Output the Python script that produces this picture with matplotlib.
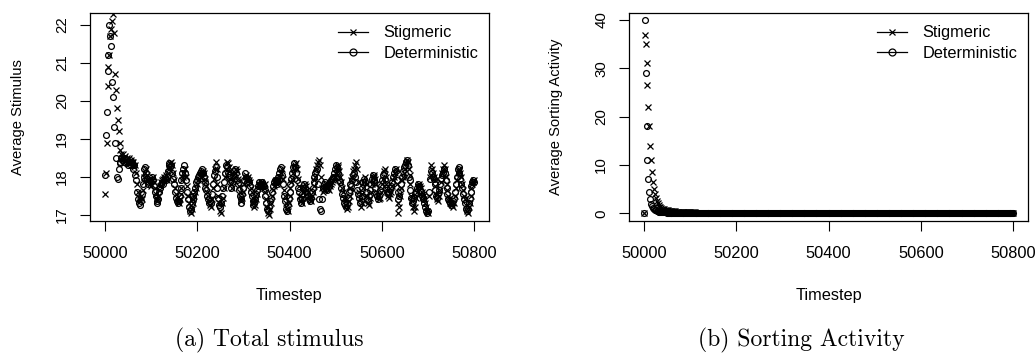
import matplotlib
matplotlib.use("Agg")
import matplotlib.pyplot as plt
from matplotlib.lines import Line2D
import numpy as np

plt.rcParams["font.family"] = ["Liberation Sans", "DejaVu Sans"]

# sampled every 2 timesteps
timestep = np.arange(50000, 50801, 2)

# (a) average stimulus
stim_stig = [
    # start-up transient 50000-50038
    17.55, 18.1, 18.9, 20.4, 20.9, 21.2, 21.7, 21.9, 22.1, 22.3,
    21.8, 20.7, 20.3, 19.8, 19.5, 19.2, 18.9, 18.7, 18.6, 18.5,
    # 50040 onwards, 5 values per line
    18.6, 18.5, 18.55, 18.45, 18.5,
    18.4, 18.5, 18.35, 18.45, 18.4,
    18.3, 18.4, 18.25, 18.3, 18.1,
    17.8, 17.6, 17.45, 17.35, 17.5,
    17.4, 17.65, 17.85, 18.0, 18.1,
    18.2, 18.05, 17.9, 17.95, 17.8,
    17.75, 17.9, 18.0, 17.85, 17.7,
    17.55, 17.4, 17.35, 17.5, 17.65,
    17.75, 17.85, 17.9, 17.95, 18.0,
    17.95, 18.05, 17.9, 18.1, 18.2,
    18.25, 18.35, 18.4, 18.3, 18.1,
    17.9, 17.7, 17.55, 17.45, 17.35,
    17.3, 17.4, 17.55, 17.7, 17.9,
    18.0, 18.1, 18.2, 18.0, 17.75,
    17.5, 17.3, 17.1, 17.05, 17.15,
    17.3, 17.4, 17.5, 17.6, 17.7,
    17.8, 17.9, 17.95, 18.05, 18.0,
    18.1, 18.15, 18.1, 17.95, 17.85,
    17.75, 17.6, 17.5, 17.35, 17.25,
    17.2, 17.4, 17.7, 17.95, 18.2,
    18.4, 18.2, 17.8, 17.5, 17.3,
    17.1, 17.05, 17.3, 17.45, 17.7,
    18.0, 18.2, 18.4, 18.35, 18.25,
    18.15, 17.95, 17.8, 17.7, 17.9,
    18.0, 18.1, 18.2, 18.15, 17.95,
    17.75, 17.6, 17.4, 17.35, 17.45,
    17.6, 17.8, 18.0, 18.05, 17.95,
    18.0, 17.9, 17.85, 17.7, 17.6,
    17.45, 17.3, 17.2, 17.25, 17.4,
    17.55, 17.7, 17.8, 17.75, 17.85,
    17.8, 17.75, 17.7, 17.8, 17.6,
    17.4, 17.2, 17.05, 17.0, 17.15,
    17.3, 17.5, 17.65, 17.75, 17.85,
    17.9, 17.85, 17.8, 17.9, 17.95,
    18.0, 18.1, 18.2, 17.95, 17.65,
    17.5, 17.3, 17.15, 17.1, 17.3,
    17.5, 17.7, 17.85, 17.95, 18.1,
    18.2, 18.3, 18.35, 18.2, 17.95,
    17.75, 17.5, 17.35, 17.3, 17.45,
    17.6, 17.7, 17.8, 17.75, 17.65,
    17.6, 17.5, 17.4, 17.35, 17.5,
    17.6, 17.75, 17.9, 18.0, 18.2,
    18.3, 18.4, 18.45, 18.3, 18.0,
    17.7, 17.6, 17.65, 17.75, 17.7,
    17.8, 17.75, 17.7, 17.65, 17.75,
    17.8, 17.85, 17.9, 17.95, 18.0,
    18.1, 18.15, 18.25, 18.3, 18.15,
    18.0, 17.85, 17.7, 17.6, 17.45,
    17.4, 17.25, 17.15, 17.2, 17.35,
    17.5, 17.7, 17.9, 18.0, 18.15,
    18.2, 18.3, 18.4, 18.2, 17.85,
    17.6, 17.4, 17.2, 17.3, 17.55,
    17.7, 17.85, 18.0, 17.8, 17.5,
    17.3, 17.25, 17.45, 17.6, 17.8,
    18.0, 18.05, 18.0, 17.95, 17.8,
    17.6, 17.5, 17.4, 17.45, 17.6,
    17.8, 17.95, 18.15, 18.2, 18.0,
    17.8, 17.65, 17.5, 17.45, 17.55,
    17.6, 17.75, 17.9, 18.0, 18.1,
    18.2, 17.8, 17.3, 17.05, 17.2,
    17.5, 17.7, 17.9, 18.0, 18.1,
    18.2, 18.35, 18.45, 18.4, 18.2,
    18.05, 17.8, 17.5, 17.35, 17.2,
    17.1, 17.2, 17.45, 17.6, 17.75,
    17.8, 17.75, 17.7, 17.6, 17.55,
    17.5, 17.4, 17.3, 17.2, 17.1,
    17.05, 17.5, 18.0, 18.3, 18.2,
    18.1, 18.0, 17.9, 17.75, 17.55,
    17.4, 17.35, 17.5, 17.65, 17.85,
    18.1, 18.2, 18.3, 18.2, 18.0,
    17.8, 17.65, 17.5, 17.4, 17.3,
    17.3, 17.25, 17.2, 17.3, 17.5,
    17.7, 17.9, 18.1, 18.2, 18.15,
    18.1, 18.0, 17.8, 17.65, 17.5,
    17.4, 17.25, 17.1, 17.05, 17.2,
    17.3, 17.5, 17.7, 17.8, 17.85,
    17.9,
]
stim_det = [
    18.05, 19.1, 19.7, 20.8, 21.2, 22.0, 21.7, 21.45, 20.5, 20.1,
    19.3, 18.9, 18.5, 18.0, 17.95, 18.2, 18.35, 18.4, 18.5, 18.45,
    18.45, 18.4, 18.5, 18.35, 18.4,
    18.3, 18.4, 18.45, 18.3, 18.35,
    18.4, 18.2, 18.3, 18.05, 17.9,
    17.6, 17.4, 17.3, 17.25, 17.35,
    17.55, 17.8, 18.0, 18.2, 18.25,
    18.1, 17.95, 17.8, 17.85, 17.9,
    17.85, 18.0, 17.9, 17.75, 17.6,
    17.5, 17.35, 17.3, 17.4, 17.6,
    17.7, 17.8, 17.85, 17.8, 17.9,
    18.0, 17.9, 18.0, 18.15, 18.3,
    18.35, 18.25, 18.3, 18.1, 17.95,
    17.8, 17.6, 17.45, 17.35, 17.3,
    17.35, 17.5, 17.7, 17.9, 18.1,
    18.2, 18.3, 18.1, 17.9, 17.6,
    17.4, 17.2, 17.1, 17.15, 17.3,
    17.4, 17.5, 17.6, 17.7, 17.85,
    17.9, 18.0, 18.05, 18.1, 18.15,
    18.2, 18.1, 18.0, 17.85, 17.7,
    17.65, 17.5, 17.4, 17.3, 17.35,
    17.3, 17.55, 17.8, 18.05, 18.15,
    18.25, 18.0, 17.7, 17.45, 17.25,
    17.2, 17.3, 17.5, 17.7, 17.85,
    18.1, 18.3, 18.25, 18.1, 18.0,
    18.05, 17.85, 17.7, 17.85, 18.05,
    18.15, 18.2, 18.1, 17.9, 17.8,
    17.65, 17.5, 17.3, 17.4, 17.55,
    17.7, 17.9, 18.1, 18.0, 17.85,
    17.95, 17.85, 17.75, 17.6, 17.5,
    17.35, 17.25, 17.3, 17.4, 17.55,
    17.65, 17.75, 17.85, 17.8, 17.75,
    17.85, 17.8, 17.75, 17.65, 17.5,
    17.3, 17.15, 17.1, 17.2, 17.35,
    17.45, 17.6, 17.75, 17.85, 17.9,
    17.85, 17.8, 17.9, 18.0, 18.1,
    18.2, 18.25, 18.05, 17.8, 17.5,
    17.35, 17.15, 17.1, 17.25, 17.45,
    17.6, 17.8, 17.95, 18.1, 18.25,
    18.35, 18.25, 18.1, 17.9, 17.7,
    17.6, 17.4, 17.3, 17.4, 17.55,
    17.7, 17.8, 17.7, 17.6, 17.55,
    17.5, 17.4, 17.35, 17.45, 17.6,
    17.7, 17.85, 18.0, 18.1, 18.15,
    18.2, 17.8, 17.4, 17.15, 17.1,
    17.4, 17.7, 17.8, 17.85, 17.75,
    17.7, 17.65, 17.8, 17.75, 17.85,
    17.9, 17.95, 18.0, 18.1, 18.2,
    18.3, 18.25, 18.1, 18.0, 17.9,
    17.85, 17.7, 17.55, 17.45, 17.3,
    17.25, 17.2, 17.3, 17.45, 17.6,
    17.65, 17.8, 17.75, 17.9, 18.05,
    18.1, 18.0, 17.85, 17.65, 17.55,
    17.45, 17.3, 17.35, 17.5, 17.7,
    17.85, 17.95, 17.85, 17.6, 17.4,
    17.35, 17.5, 17.65, 17.8, 17.95,
    18.05, 17.9, 17.85, 17.7, 17.55,
    17.5, 17.4, 17.5, 17.65, 17.75,
    17.9, 18.05, 18.1, 17.95, 17.8,
    17.7, 17.6, 17.55, 17.6, 17.7,
    17.75, 17.85, 18.0, 18.1, 18.2,
    18.15, 17.9, 17.6, 17.4, 17.5,
    17.65, 17.8, 18.0, 18.15, 18.25,
    18.3, 18.4, 18.45, 18.3, 18.0,
    17.9, 17.65, 17.45, 17.3, 17.35,
    17.45, 17.55, 17.6, 17.7, 17.8,
    17.75, 17.65, 17.6, 17.5, 17.45,
    17.4, 17.3, 17.2, 17.1, 17.05,
    17.1, 17.6, 17.95, 18.15, 18.1,
    18.0, 17.95, 17.8, 17.65, 17.5,
    17.45, 17.55, 17.65, 17.8, 17.95,
    18.05, 18.1, 18.2, 18.1, 17.9,
    17.7, 17.55, 17.4, 17.35, 17.3,
    17.25, 17.3, 17.35, 17.45, 17.6,
    17.8, 18.0, 18.2, 18.25, 18.1,
    17.95, 17.8, 17.7, 17.55, 17.4,
    17.3, 17.15, 17.1, 17.15, 17.3,
    17.45, 17.6, 17.75, 17.85, 17.9,
    17.85,
]

# (b) average sorting activity (flat at zero once the transient is gone)
sort_stig = [
    0.0, 37.0, 35.0, 31.0, 26.5, 22.0, 18.0, 14.0, 11.0, 8.5,
    6.5, 5.0, 4.0, 3.2, 2.6, 2.1, 1.7, 1.4, 1.2, 1.0,
    0.9, 0.85, 0.8, 0.75, 0.7, 0.65, 0.6, 0.57, 0.54, 0.5,
    0.47, 0.45, 0.42, 0.4, 0.38, 0.36, 0.35, 0.33, 0.32, 0.3,
    0.3, 0.28, 0.27, 0.26, 0.25, 0.25, 0.24, 0.23, 0.22, 0.21,
    0.2, 0.2, 0.19, 0.18, 0.17, 0.16, 0.15, 0.15, 0.14, 0.13,
    0.12, 0.11, 0.1, 0.1, 0.09, 0.08, 0.07, 0.06, 0.05, 0.05,
] + [0.0] * 331
sort_det = [
    0.0, 40.0, 29.0, 18.0, 11.0, 7.0, 4.5, 3.0, 2.0, 1.5,
    1.1, 0.9, 0.7, 0.6, 0.5, 0.4, 0.35, 0.3, 0.25, 0.2,
    0.2, 0.19, 0.18, 0.17, 0.16, 0.15, 0.14, 0.13, 0.12, 0.11,
    0.1, 0.1, 0.09, 0.08, 0.07, 0.06, 0.05, 0.05, 0.04, 0.03,
] + [0.0] * 361

labels = ["Stigmeric", "Deterministic"]
captions = ["(a) Total stimulus", "(b) Sorting Activity"]

W, H = 1036, 354
fig = plt.figure(figsize=(W / 100, H / 100), dpi=100)


def panel(left_px, series, ylim, yticks, ylabel, caption, cap_x, ylab_px):
    ax = fig.add_axes([left_px / W, (H - 221) / H, 399 / W, 208 / H])
    stig, det = series
    ax.plot(timestep, stig, ls="none", marker="x", ms=4.2, mew=0.9, color="black")
    ax.plot(timestep, det, ls="none", marker="o", ms=4.2, mew=0.9,
            mfc="none", color="black")
    ax.set_xlim(49968, 50832)
    ax.set_ylim(*ylim)
    ax.set_xticks([50000, 50200, 50400, 50600, 50800])
    ax.set_yticks(yticks)
    ax.tick_params(direction="out", length=7, width=0.8, labelsize=11.8)
    ax.tick_params(axis="x", pad=11)
    ax.tick_params(axis="y", labelsize=10.8, labelrotation=90, pad=8)
    for t in ax.get_yticklabels():
        t.set_va("center")
    for s in ax.spines.values():
        s.set_linewidth(0.9)
    ax.set_xlabel("Timestep", fontsize=11.8)
    ax.xaxis.set_label_coords(0.5, -0.36)
    ax.xaxis.label.set_va("center")
    ax.set_ylabel(ylabel, fontsize=10.6)
    ax.yaxis.set_label_coords(-(left_px - ylab_px) / 399, 0.5)
    ax.yaxis.label.set_va("center")

    handles = [
        Line2D([], [], color="black", lw=0.9, marker="x", ms=5, mew=0.9),
        Line2D([], [], color="black", lw=0.9, marker="o", ms=5, mew=0.9, mfc="none"),
    ]
    ax.legend(handles, labels, loc="upper left", bbox_to_anchor=(0.622, 0.94),
              frameon=False, fontsize=11.8, borderpad=0, borderaxespad=0,
              handlelength=1.8, handletextpad=0.95, labelspacing=0.33)
    fig.text(cap_x / W, (H - 340) / H, caption, ha="center", va="center",
             fontsize=17, family="cmr10")
    return ax


panel(90, (stim_stig, stim_det), (16.83, 22.32), range(17, 23),
      "Average Stimulus", captions[0], 269, 18)
panel(629, (sort_stig, sort_det), (-1.6, 41.45), range(0, 41, 10),
      "Average Sorting Activity", captions[1], 801, 556)

fig.savefig("out.png", dpi=100)
